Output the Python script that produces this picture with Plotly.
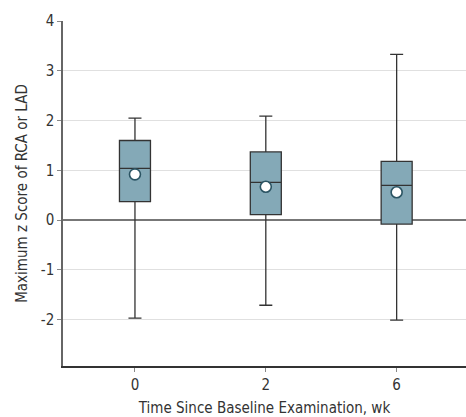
import plotly.graph_objects as go

categories = ["0", "2", "6"]
q1 = [0.37, 0.11, -0.08]
median = [1.04, 0.76, 0.70]
q3 = [1.60, 1.37, 1.18]
lower = [-1.97, -1.71, -2.01]
upper = [2.05, 2.09, 3.33]
means = [0.92, 0.67, 0.56]
y_ticks = [-2, -1, 0, 1, 2, 3, 4]
y_tick_labels = ["-2", "-1", "0", "1", "2", "3", "4"]

font_family = "DejaVu Sans Condensed, Liberation Sans Narrow, sans-serif"

fig = go.Figure()
fig.add_trace(go.Box(
    x=categories, q1=q1, median=median, q3=q3,
    lowerfence=lower, upperfence=upper,
    fillcolor="#84A9B7",
    line=dict(color="#333333", width=1.3),
    width=0.237, whiskerwidth=0.42,
    boxpoints=False, showlegend=False, hoverinfo="skip",
))
fig.add_trace(go.Scatter(
    x=categories, y=means, mode="markers",
    marker=dict(size=11, color="white", line=dict(color="#2B5463", width=1.6)),
    showlegend=False, hoverinfo="skip",
))

fig.update_layout(
    width=466, height=417,
    margin=dict(l=63, r=0, t=21, b=51, autoexpand=False),
    paper_bgcolor="white", plot_bgcolor="white",
    font=dict(family=font_family, size=15, color="#333333"),
    xaxis=dict(
        type="category", range=[-0.55, 2.53],
        showline=True, linecolor="#333333", linewidth=1.5,
        ticks="outside", ticklen=4, tickcolor="#888888",
        showgrid=False, zeroline=False,
        title=dict(text="Time Since Baseline Examination, wk", standoff=12,
                   font=dict(size=15)),
        tickfont=dict(size=15),
    ),
    yaxis=dict(
        range=[-2.93, 4.0], tickvals=y_ticks, ticktext=y_tick_labels,
        showline=True, linecolor="#666666", linewidth=1.5,
        ticks="outside", ticklen=4, tickcolor="#888888",
        showgrid=True, gridcolor="#E0E0E0", gridwidth=1,
        zeroline=True, zerolinecolor="#777777", zerolinewidth=2,
        title=dict(text="Maximum z Score of RCA or LAD", standoff=10,
                   font=dict(size=15)),
        tickfont=dict(size=15),
    ),
)

fig.write_html(
    "out.html",
    config={"displayModeBar": False},
    post_script="document.body.style.margin='0';document.body.style.overflow='hidden';",
)
